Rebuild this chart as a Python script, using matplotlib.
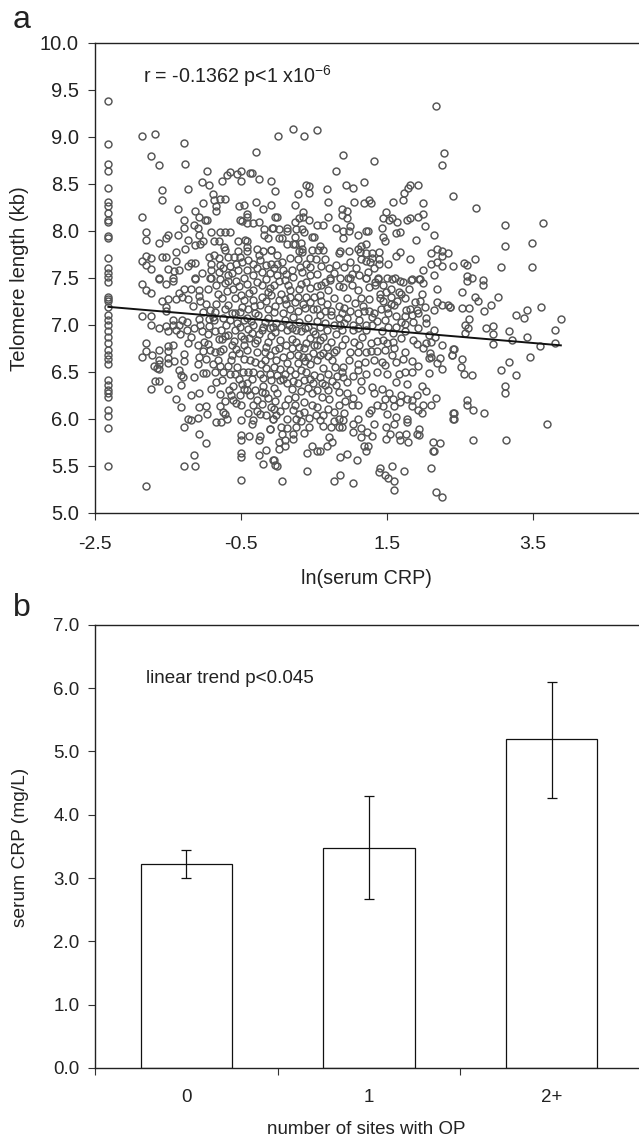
import matplotlib
matplotlib.use("Agg")
import matplotlib.pyplot as plt

plt.rcParams['font.family'] = ['Liberation Sans', 'DejaVu Sans']
plt.rcParams['mathtext.default'] = 'regular'

# Panel a: values (ln CRP, telomere length)
stack_x = -2.32
stack_y = [9.38,8.92,8.71,8.64,8.46,8.31,8.26,8.19,8.12,8.09,7.94,7.92,7.71,7.60,7.55,7.51,7.46,7.30,7.27,7.25,
           7.19,7.10,7.05,7.00,6.93,6.87,6.80,6.73,6.68,6.64,6.58,6.41,6.36,6.30,6.27,6.23,6.09,6.03,5.90,5.50]

upper_left = [(-1.85,9.01),(-1.67,9.03),(-1.28,8.93),(-1.73,8.80),(-1.62,8.70),(-1.26,8.71),(-0.96,8.64),(-1.58,8.43),(-1.58,8.33),(-1.22,8.45),(-1.85,8.15),(-0.29,8.84),
(-0.65,8.63),(-0.69,8.59),(-0.75,8.53),(-1.03,8.52),(-0.93,8.49),(-0.55,8.60),(-0.50,8.64),(-0.50,8.53),(-0.37,8.62),(-0.35,8.62),(-0.25,8.55),(-0.09,8.53),(-0.03,8.42),
(-0.88,8.39),(-0.86,8.33),(-0.78,8.34),(-0.71,8.34),(-1.01,8.30),(-0.84,8.26),(-0.84,8.21),(-0.52,8.26),(-0.46,8.27),(-0.29,8.31),(-0.09,8.27),(-0.20,8.23),(-1.36,8.23),(-1.13,8.21),(-1.07,8.15),(-0.99,8.12),(-0.96,8.12),(-1.28,8.11),(-1.28,8.03),(-1.14,8.06),(-1.09,8.03),
(-0.42,8.18),(-0.41,8.15),(-0.51,8.12),(-0.48,8.10),(-0.42,8.08),(-0.33,8.08),(-0.25,8.09),(-0.18,8.02),(-0.07,8.03),(-0.03,8.15),(-0.18,7.96),(-0.12,7.92),
(-1.79,7.99),(-1.79,7.90),(-1.49,7.96),(-1.52,7.92),(-1.62,7.87),(-1.36,7.96),(-1.22,7.90),(-0.90,7.99),(-0.78,7.99),(-0.71,7.99),(-0.65,7.99),(-0.86,7.89),(-0.80,7.89),(-1.07,7.95),(-1.01,7.89),(-1.05,7.86),(-1.13,7.85),(-1.26,7.81),(-0.73,7.83),(-0.71,7.80),(-0.54,7.89),(-0.44,7.90),(-0.41,7.89),(-0.42,7.83),(-0.54,7.79),(-0.42,7.79),(-0.27,7.81),(-0.20,7.79),(-0.09,7.80),(-0.25,7.74),
(-1.39,7.77),(-1.58,7.72),(-1.52,7.72),(-1.79,7.73),(-1.73,7.71),(-1.85,7.68),(-1.79,7.64),(-1.73,7.59),(-1.39,7.68),(-1.49,7.59),(-1.35,7.58),(-1.41,7.57),(-1.18,7.66),(-1.13,7.66),(-1.22,7.62),(-1.03,7.55),(-1.62,7.50),(-1.42,7.50),(-1.13,7.50),
(-0.93,7.72),(-0.86,7.74),(-0.80,7.71),(-0.67,7.72),(-0.59,7.72),(-0.51,7.72),(-0.90,7.65),(-0.78,7.64),(-0.65,7.63),(-0.56,7.65),(-0.48,7.67),(-0.40,7.69),(-0.33,7.65),(-0.24,7.69),(-0.15,7.64),(-0.08,7.65),(-0.90,7.58),(-0.80,7.56),(-0.67,7.53),(-0.53,7.58),(-0.42,7.58),(-0.33,7.53),(-0.21,7.56),(-0.10,7.55),(-0.92,7.50),(-0.46,7.50)]

upper_mid = [(0.01,9.01),(0.22,9.08),(0.37,9.01),(0.54,9.07),(2.17,9.33),(0.90,8.81),(1.32,8.74),(0.81,8.64),(2.28,8.83),(2.25,8.70),
(0.39,8.49),(0.44,8.48),(0.43,8.40),(0.28,8.39),(0.68,8.45),(0.94,8.49),(1.03,8.46),(1.19,8.52),(0.70,8.31),(1.05,8.31),(1.19,8.30),(1.26,8.33),(1.28,8.30),(1.58,8.31),(1.72,8.33),(1.73,8.40),(1.81,8.49),(1.79,8.46),(1.93,8.49),(2.00,8.30),(2.40,8.37),
(0.24,8.27),(0.88,8.23),(0.96,8.21),(0.88,8.17),(0.96,8.14),(0.70,8.15),(0.35,8.20),(-0.01,8.15),(1.49,8.20),(1.45,8.14),(1.57,8.14),(1.53,8.11),(1.64,8.09),(1.77,8.11),(1.81,8.14),(1.93,8.15),(2.00,8.18),(2.02,8.05),(2.15,7.96),(1.90,7.90),
(0.30,8.14),(0.35,8.15),(0.43,8.12),(0.24,8.09),(0.54,8.06),(0.62,8.06),(0.13,8.03),(0.03,8.02),(-0.06,8.03),(0.26,8.02),(0.34,8.02),(0.13,8.00),(0.37,7.99),(0.81,8.03),(0.90,8.00),(0.98,8.00),(1.00,8.05),(1.11,7.96),(1.22,8.00),(1.24,8.00),(0.90,7.92),(1.43,8.03),(1.45,7.93),(1.47,7.89),(1.62,7.98),(1.68,7.99),
(0.03,7.92),(0.07,7.92),(0.24,7.93),(0.47,7.93),(0.50,7.93),(0.24,7.86),(0.32,7.87),(0.14,7.86),(0.22,7.86),(0.34,7.81),(0.58,7.84),(0.47,7.80),(0.56,7.80),(0.62,7.80),(0.30,7.79),(0.34,7.77),(-0.08,7.80),(-0.01,7.74),(0.86,7.79),(0.84,7.76),(0.98,7.79),(1.11,7.81),(1.15,7.84),(1.22,7.86),(1.13,7.77),(1.21,7.76),(1.30,7.76),(1.39,7.77),(1.68,7.77),(1.62,7.73),(1.81,7.70),(2.10,7.76),(2.19,7.81),(2.26,7.79),(2.34,7.76),(2.26,7.73),
(0.18,7.71),(0.45,7.71),(0.53,7.70),(0.65,7.70),(1.00,7.67),(1.15,7.70),(1.22,7.68),(1.27,7.67),(1.30,7.71),(1.39,7.70),(1.39,7.65),(1.51,7.65),(0.81,7.64),(0.71,7.60),(0.39,7.65),(0.45,7.61),(0.31,7.61),(-0.01,7.65),(2.10,7.65),(2.19,7.67),(2.25,7.62),(2.40,7.62),(2.00,7.58),(1.24,7.56),(1.02,7.54),(0.54,7.54),(0.08,7.58),(0.20,7.58),(0.34,7.56),(0.77,7.55),(2.14,7.53),(1.21,7.50),(1.38,7.50),(1.50,7.50),(1.61,7.50),(1.84,7.49),(1.95,7.49),(0.72,7.50),(0.86,7.50),(0.99,7.50),(-0.01,7.53),(0.22,7.51),(0.45,7.53)]

right_side = [(2.72,8.24),(3.12,8.06),(3.63,8.08),(3.12,7.84),(3.48,7.87),(2.55,7.66),(2.60,7.64),(2.70,7.70),(3.06,7.61),(3.49,7.61),(2.60,7.52),(2.66,7.50),(2.81,7.48),
(2.60,7.47),(2.81,7.42),(2.53,7.35),(2.70,7.30),(2.74,7.25),(3.02,7.30),(2.92,7.21),(2.83,7.15),(2.53,7.18),(2.63,7.18),(2.36,7.19),(3.61,7.19),(3.42,7.16),(3.27,7.10),(3.38,7.07),(3.88,7.06),(2.63,7.06),(2.57,7.00),(2.61,6.97),(2.85,6.97),(2.95,6.99),(3.80,6.94),(3.17,6.93),(2.57,6.91),(2.95,6.90),(3.42,6.87),(3.21,6.84),(2.95,6.79),(3.80,6.81),(3.59,6.77),(2.42,6.74),(2.39,6.68),(3.46,6.66),(2.53,6.63),(3.17,6.60),(2.51,6.55),(3.06,6.52),(2.55,6.47),(2.66,6.46),(3.27,6.46),(3.12,6.35),(3.12,6.27),(2.60,6.20),(2.59,6.15),(2.68,6.09),(2.83,6.06),(2.42,6.06),(2.42,6.00),(3.69,5.94),(2.68,5.77),(3.13,5.77)]

lower_mid = [(1.21,7.50),(1.34,7.46),(1.38,7.49),(1.34,7.42),(1.45,7.42),(1.57,7.49),(1.68,7.47),(1.72,7.46),(1.83,7.48),(1.94,7.49),(2.00,7.44),(2.19,7.38),(1.98,7.33),(1.49,7.35),(1.41,7.33),(1.15,7.28),(1.26,7.27),(1.45,7.25),(1.64,7.25),(1.60,7.21),(1.88,7.24),(2.19,7.24),(2.25,7.21),(2.34,7.21),(2.36,7.19),(2.14,7.16),(2.02,7.19),(1.91,7.16),(1.76,7.16),(1.82,7.17),(1.42,7.17),(1.19,7.15),(1.26,7.15),(1.32,7.12),(1.52,7.12),(1.63,7.09),(1.75,7.09),(1.85,7.10),(1.93,7.12),(2.04,7.07),(2.04,7.02),(1.86,7.03),(1.75,7.01),(1.47,7.05),(1.36,7.04),(1.22,7.00),(1.12,7.05),(1.04,7.00),(0.95,7.07),(0.84,7.07),(0.74,7.10),(0.65,7.15),(0.54,7.17),(0.49,7.17),(0.38,7.18),(0.29,7.29),(0.17,7.17),(0.02,7.26),(-0.08,7.32),(1.02,7.42),(0.97,7.50),(0.84,7.41),(0.72,7.48),(0.65,7.46),(0.54,7.41),(0.45,7.39),(0.32,7.43),(0.15,7.42),(0.02,7.47),(0.40,7.30),(0.59,7.32),(0.77,7.28),(0.95,7.28),(1.06,7.23),
(-0.03,6.92),(0.13,6.94),(0.33,6.93),(0.49,6.93),(0.68,6.94),(0.88,6.94),(1.04,6.94),(1.22,6.94),(1.43,6.93),(1.59,6.91),(1.75,6.93),(1.86,6.84),(2.07,6.89),(2.16,6.87),(2.11,6.82),(2.25,6.78),(2.04,6.80),(1.91,6.79),(2.00,6.75),(2.39,6.68),(2.41,6.74),
(0.04,6.84),(0.20,6.85),(0.40,6.80),(0.59,6.84),(0.74,6.82),(0.93,6.85),(1.16,6.87),(1.36,6.83),(1.59,6.82),(1.75,6.71),(1.60,6.75),(1.47,6.73),(1.36,6.72),(1.22,6.71),(1.10,6.71),(1.00,6.71),(0.81,6.73),(0.70,6.67),(0.77,6.71),(0.49,6.70),(0.36,6.75),(0.20,6.75),(0.08,6.66),(-0.03,6.73),
(1.32,6.62),(1.57,6.68),(2.09,6.70),(2.11,6.66),(2.23,6.65),(2.08,6.65),(2.18,6.59),(2.25,6.53),(2.08,6.49),(1.93,6.56),(1.84,6.61),(1.72,6.64),(1.43,6.60),(1.47,6.57),(1.11,6.58),(1.10,6.52),(0.90,6.55),(0.79,6.55),(0.88,6.50),(0.54,6.62),(0.38,6.61),(0.29,6.59),(0.13,6.59),(0.04,6.53),(1.37,6.50),(1.50,6.48),(1.66,6.48),(1.75,6.50),(1.84,6.50),(1.22,6.47),(1.04,6.45),(1.14,6.40),(1.62,6.39),(1.77,6.37),(1.98,6.35),(2.04,6.29),(2.17,6.22),(2.10,6.15),(2.00,6.15),(1.91,6.25),(1.85,6.20),(1.77,6.21),(1.69,6.25),(1.59,6.21),(1.47,6.21),(1.53,6.27),(1.43,6.32),(1.29,6.34),(1.32,6.27),(1.36,6.15),(1.45,6.13),(1.60,6.13),(1.68,6.18),(1.85,6.13),(1.93,6.09),(1.98,6.06),(1.26,6.06),(1.28,6.09),(1.11,6.15),(1.02,6.15),(0.93,6.19),(0.96,6.27),(1.04,6.22),(0.85,6.15),(0.81,6.36),(0.96,6.39),(0.70,6.30),(0.61,6.38),(0.49,6.38),(0.36,6.41),(0.24,6.47),(0.04,6.41),(0.13,6.38),(-0.01,6.27),(0.33,6.29),(0.47,6.27),(0.61,6.23),(0.71,6.21),(-0.03,6.19),(0.15,6.21),(0.24,6.23),(0.36,6.18),(0.47,6.15),(0.24,6.15),(0.04,6.08),(0.13,6.00),(-0.06,6.00),(0.22,6.09),(0.36,6.07),(0.44,6.01),(0.53,6.04),(0.62,6.04),(0.70,6.10),(0.77,6.07),(0.91,6.06),(0.59,5.99),(0.77,5.97),(0.90,5.99),(0.62,5.92),(0.73,5.91),(0.84,5.91),(0.88,5.91),(1.03,5.94),(1.32,5.94),(1.60,5.94),(1.77,6.00),(1.77,5.96),(1.49,5.91),(2.40,6.06),(2.40,6.00),(1.15,5.90),(1.04,5.86),(1.15,5.80),(1.23,5.86),(1.30,5.81),(1.54,5.84),(1.49,5.78),(1.66,5.83),(1.68,5.77),(1.76,5.84),(1.79,5.75),(1.91,5.84),(1.94,5.89),(1.94,5.83),(2.13,5.75),(2.23,5.74),(2.13,5.66),(2.15,5.65),(1.19,5.71),(1.24,5.71),(1.21,5.65),(0.71,5.80),(0.75,5.75),(0.68,5.71),(0.48,5.71),(0.54,5.66),(0.59,5.65),(0.41,5.63),(0.37,5.85),(0.43,5.91),(0.26,5.91),(0.05,5.91),(0.13,5.90),(0.07,5.84),(0.22,5.84),(0.22,5.78),(0.02,5.75),(0.11,5.77),(0.11,5.71),(0.03,5.68),(-0.04,5.56),(-0.01,5.50),(0.07,5.34),(0.41,5.44),(0.77,5.34),(0.86,5.40),(1.03,5.31),(0.86,5.59),(0.96,5.62),(1.09,5.56),(1.57,5.50),(1.73,5.44),(2.11,5.47),(1.41,5.47),(1.39,5.43),(1.47,5.40),(1.52,5.37),(1.60,5.34),(1.60,5.24),(2.17,5.22),(2.26,5.16),(-0.10,5.89)]

lower_left = [(-1.85,7.43),(-1.79,7.37),(-1.73,7.34),(-1.62,7.49),(-1.52,7.43),(-1.43,7.47),(-1.13,7.49),(-0.90,7.50),(-0.78,7.49),(-0.67,7.47),(-0.84,7.42),(-0.95,7.38),(-1.28,7.38),(-1.18,7.38),(-1.07,7.37),(-1.34,7.34),(-1.07,7.31),(-0.81,7.33),(-0.69,7.36),(-0.61,7.38),(-0.52,7.41),(-0.42,7.43),(-0.33,7.37),(-0.21,7.42),(-0.10,7.39),(-1.58,7.25),(-1.49,7.27),(-1.39,7.27),(-1.30,7.29),(-1.22,7.27),(-0.58,7.28),(-0.46,7.26),(-0.33,7.26),(-0.21,7.30),(-1.52,7.19),(-1.52,7.15),(-0.97,7.22),(-0.84,7.22),(-0.71,7.17),(-0.92,7.16),(-1.01,7.13),(-0.85,7.13),(-0.51,7.13),(-0.62,7.12),(-0.40,7.17),(-0.24,7.21),(-0.12,7.17),(-0.26,7.10),(-1.85,7.09),(-1.73,7.09),(-1.07,7.06),(-0.86,7.05),(-0.93,7.06),(-0.74,7.07),(-0.42,7.07),(-0.17,7.03),(-1.43,7.05),(-1.30,7.05),(-1.24,7.03),(-1.73,7.00),(-1.62,6.96),(-1.52,6.99),(-1.49,6.93),(-1.43,7.00),(-1.35,7.00),(-1.39,6.94),(-1.33,6.90),(-1.24,6.94),(-1.14,6.96),(-0.93,6.99),(-1.03,6.93),(-1.06,7.00),(-0.85,6.93),(-0.77,6.94),(-0.76,6.85),(-0.67,6.89),(-0.58,6.94),(-0.51,6.98),(-0.33,7.00),(-0.35,6.91),(-0.21,6.94),(-0.10,6.96),(-0.46,6.85),(-0.27,6.84),(-1.18,6.87),(-1.22,6.81),(-1.09,6.78),(-0.95,6.79),(-0.59,6.83),(-1.79,6.81),(-1.43,6.78),(-1.49,6.77),(-1.62,6.73),(-1.49,6.72),(-1.79,6.72),(-1.72,6.68),(-1.85,6.66),(-1.28,6.69),(-1.49,6.65),(-1.07,6.66),(-1.01,6.72),(-0.92,6.73),(-0.97,6.64),(-0.85,6.71),(-0.74,6.74),(-0.81,6.62),(-0.56,6.74),(-0.42,6.73),(-0.28,6.71),(-0.17,6.71),(-0.37,6.62),(-0.17,6.62),(-0.63,6.62),(-1.62,6.62),(-1.49,6.59),(-1.62,6.58),(-1.69,6.56),(-1.65,6.54),(-1.62,6.53),(-1.41,6.61),(-1.28,6.61),(-1.09,6.58),(-0.88,6.58),(-0.78,6.56),(-0.67,6.56),(-1.35,6.52),(-1.01,6.49),(-0.97,6.49),(-0.85,6.50),(-0.74,6.50),(-0.58,6.47),(-0.47,6.50),(-0.33,6.50),(-0.24,6.47),(-0.15,6.54),(-1.32,6.46),(-1.29,6.44),(-1.14,6.44),(-0.09,6.41),(-1.67,6.40),(-1.62,6.40),(-1.32,6.36),(-0.84,6.39),(-0.75,6.41),(-0.61,6.35),(-0.48,6.37),(-0.41,6.38),(-1.73,6.31),(-1.49,6.31),(-0.46,6.32),(-0.42,6.30),(-1.18,6.25),(-1.07,6.27),(-0.63,6.25),(-0.51,6.25),(-0.37,6.25),(-0.21,6.28),(-0.17,6.27),(-1.39,6.21),(-0.71,6.19),(-0.61,6.20),(-0.56,6.17),(-0.28,6.20),(-0.21,6.16),(-1.32,6.12),(-1.07,6.12),(-0.97,6.13),(-0.78,6.13),(-0.50,6.15),(-0.33,6.14),(-0.09,6.12),(-0.74,6.07),(-0.71,6.05),(-0.96,6.05),(-1.09,6.01),(-1.22,6.00),(-1.18,5.99),(-0.69,6.00),(-0.84,5.96),(-0.77,5.96),(-0.50,5.99),(-0.33,5.99),(-0.35,5.94),(-0.24,6.05),(-0.15,6.04),(-0.06,6.00),(-1.28,5.91),(-0.10,5.89),(-1.07,5.84),(-0.97,5.74),(-0.50,5.83),(-0.50,5.77),(-0.39,5.81),(-0.24,5.81),(-0.25,5.77),(-0.16,5.67),(-0.50,5.63),(-0.50,5.59),(-0.25,5.61),(-1.14,5.61),(-0.06,5.56),(-0.03,5.51),(-0.20,5.52),(-1.28,5.50),(-1.13,5.50),(-0.50,5.35),(-1.79,5.28)]

dense_centre = [(-0.45,7.05),(-0.30,7.12),(-0.05,7.13),(0.10,7.05),(0.22,7.08),(0.30,7.03),(-0.20,6.98),(-0.40,6.95),(-0.02,7.02),(0.08,7.12),(0.42,7.07),(0.55,7.04),(0.66,7.02),(0.78,7.00),(0.92,7.02),(-0.55,7.02),(-0.65,7.05),(-0.15,7.25),(0.05,7.33),(0.18,7.30),(0.30,7.38),(-0.05,7.42),(-0.28,7.45),(0.10,7.48),(0.60,7.25),(0.70,7.37),(0.85,7.20),(1.00,7.15),(0.35,7.22),(0.50,7.30),
(-0.52,6.70),(-0.45,6.78),(-0.30,6.80),(-0.12,6.82),(0.12,6.78),(0.26,6.82),(0.45,6.86),(0.55,6.78),(0.62,6.70),(0.42,6.66),(0.28,6.68),(-0.10,6.68),(-0.30,6.60),(-0.05,6.55),(0.10,6.48),(0.32,6.52),(0.45,6.58),(0.62,6.54),(0.70,6.47),(0.50,6.46),(-0.20,6.35),(-0.05,6.33),(0.20,6.32),(0.42,6.33),(-0.30,6.30),(-0.52,6.42),(-0.65,6.47),(0.55,6.30),(0.28,6.38),(0.82,6.45),
(-0.72,6.88),(-0.62,6.78),(-0.78,6.72),(-0.50,6.88),(-0.38,6.86),(-0.25,6.90),(-0.08,6.88),(0.20,6.97),(0.38,6.97),(0.58,6.98),(0.80,6.90),(1.05,6.82),(1.28,6.80),(1.45,6.84),(1.62,6.98),(1.70,6.86),(1.30,7.08),(1.55,7.22),(1.75,7.28),(1.95,7.25)]

dense_band = [(-0.62,7.55),(-0.74,7.60),(-0.28,7.60),(-0.05,7.60),(0.06,7.67),(0.12,7.54),(0.28,7.70),(0.60,7.63),(0.92,7.61),(1.08,7.60),(1.12,7.53),(1.33,7.60),(-0.72,7.44),(-0.56,7.47),(-0.16,7.49),(0.17,7.37),(0.40,7.45),(0.60,7.42),(0.90,7.40),(1.10,7.37),(1.25,7.40),(1.55,7.38),(1.66,7.35),(1.80,7.38),
(-0.50,7.32),(-0.38,7.34),(-0.12,7.35),(0.10,7.27),(0.24,7.24),(0.45,7.24),(0.68,7.22),(0.92,7.18),(1.10,7.12),(1.40,7.28),(1.55,7.30),(1.70,7.33),(-0.68,7.21),(-0.48,7.19),(-0.32,7.20),(-0.03,7.20),(0.12,7.22),(0.28,7.15),(0.58,7.10),(0.74,7.15),(0.88,7.12),(1.17,7.20),(1.50,7.18),(1.70,7.03),
(-0.58,7.12),(-0.36,7.04),(-0.12,7.07),(-0.06,6.98),(0.05,6.98),(0.16,7.00),(0.26,6.94),(0.42,6.98),(0.52,6.90),(0.62,6.87),(0.86,7.00),(1.10,6.96),(1.30,7.00),(1.52,6.98),(1.92,6.96),(2.14,6.94),(-0.15,6.76),(0.02,6.75),(0.30,6.76),(0.50,6.78),(0.68,6.76),(0.88,6.78),(1.12,6.78),(1.28,6.72),(1.50,6.80),
(-0.62,6.68),(-0.46,6.63),(-0.22,6.58),(-0.02,6.62),(0.18,6.68),(0.35,6.66),(0.58,6.68),(0.75,6.62),(0.98,6.62),(1.20,6.60),(1.62,6.60),(-0.55,6.55),(-0.40,6.50),(-0.10,6.48),(0.00,6.46),(0.18,6.52),(0.40,6.50),(0.58,6.44),(0.75,6.40),(0.90,6.44),(1.15,6.30),(-0.35,6.42),(-0.20,6.43),(0.08,6.42),(0.22,6.40),(0.45,6.42),(0.65,6.36),(0.85,6.28),
(-0.28,6.08),(-0.12,6.22),(-0.05,6.10),(0.10,6.14),(0.30,6.05),(0.55,6.12),(0.85,6.00),(1.10,6.00),(-0.40,6.06),(-0.02,6.04),(0.32,5.97),(0.25,6.00),(1.50,6.05),(1.62,6.02),(-0.66,6.30),(-0.78,6.26),(-0.90,6.32),(-0.80,6.85),(-0.95,6.90),(-1.00,6.82),(-0.70,7.00),(-0.88,7.08),(-0.75,7.28),(-1.15,7.20),(-1.05,7.25)]

fit_x = [-2.31, 3.88]
fit_y = [7.19, 6.78]

# Panel b
sites = ['0', '1', '2+']
crp_mean = [3.22, 3.47, 5.20]
crp_low = [3.00, 2.67, 4.27]
crp_high = [3.45, 4.30, 6.10]

W, H = 639, 1140
TXT = '#222222'
EDGE = '#555555'
fig = plt.figure(figsize=(W/100, H/100), dpi=100)

def make_axes(l, t, r, b):
    return fig.add_axes([l/W, 1-b/H, (r-l)/W, (b-t)/H])

def px(x, y, s, **kw):
    kw.setdefault('color', TXT)
    fig.text(x/W, 1-y/H, s, **kw)

ax = make_axes(94.5, 43, 642.7, 512.5)
pts = upper_left + upper_mid + right_side + lower_mid + lower_left + dense_centre + dense_band
xs = [p[0] for p in pts] + [stack_x]*len(stack_y)
ys = [p[1] for p in pts] + stack_y
ax.plot(xs, ys, linestyle='none', marker='o', ms=5.0, mfc='none', mec=EDGE, mew=1.05, zorder=2)
ax.plot(fit_x, fit_y, color='#111111', lw=1.4, zorder=3)
ax.set_xlim(-2.5, 5)
ax.set_ylim(5, 10)
ax.set_xticks([-2.5, -0.5, 1.5, 3.5])
ax.set_xticklabels(['-2.5', '-0.5', '1.5', '3.5'])
ax.set_yticks([5 + 0.5*i for i in range(11)])
ax.set_yticklabels([f'{5 + 0.5*i:.1f}' for i in range(11)])

bx = make_axes(95, 624.7, 643, 1068)
pos = list(range(len(sites)))
bx.bar(pos, crp_mean, width=0.5, facecolor='white', edgecolor='#111111', lw=0.9, zorder=2)
bx.errorbar(pos, crp_mean,
            yerr=[[m-l for m, l in zip(crp_mean, crp_low)], [h-m for m, h in zip(crp_mean, crp_high)]],
            fmt='none', ecolor='#111111', elinewidth=0.9, capsize=3.6, capthick=0.9, zorder=3)
bx.set_xlim(-0.5, 2.5)
bx.set_ylim(0, 7)
bx.set_xticks([-0.5, 0.5, 1.5, 2.5])
bx.set_xticklabels([])
bx.set_yticks(range(8))
bx.set_yticklabels([f'{i:.1f}' for i in range(8)])
for i, s in zip(pos, sites):
    bx.text(i, -0.47, s, ha='center', va='center', fontsize=13.5, color=TXT, clip_on=False)

for a in (ax, bx):
    for s in a.spines.values():
        s.set_linewidth(1.0)
        s.set_color('#222222')
    a.tick_params(direction='out', length=5.2, width=0.8, color='#333333', labelcolor=TXT)
ax.tick_params(axis='y', labelsize=14.5, pad=6)
ax.tick_params(axis='x', labelsize=14, pad=12)
bx.tick_params(axis='y', labelsize=13.5, pad=6)

px(13, 28, 'a', fontsize=23, va='baseline')
px(13, 616.5, 'b', fontsize=23, va='baseline')
px(20, 279, 'Telomere length (kb)', fontsize=14.6, rotation=90, ha='center', va='center')
px(366, 579, 'ln(serum CRP)', fontsize=14.2, ha='center', va='center')
px(21, 847, 'serum CRP (mg/L)', fontsize=13.8, rotation=90, ha='center', va='center')
px(366, 1129, 'number of sites with OP', fontsize=13.5, ha='center', va='center')
px(143, 83, 'r = -0.1362 p<1 x10$^{-6}$', fontsize=14.1, ha='left', va='baseline')
px(146.5, 683, 'linear trend p<0.045', fontsize=13.6, ha='left', va='baseline')

fig.savefig('out.png', dpi=100)
